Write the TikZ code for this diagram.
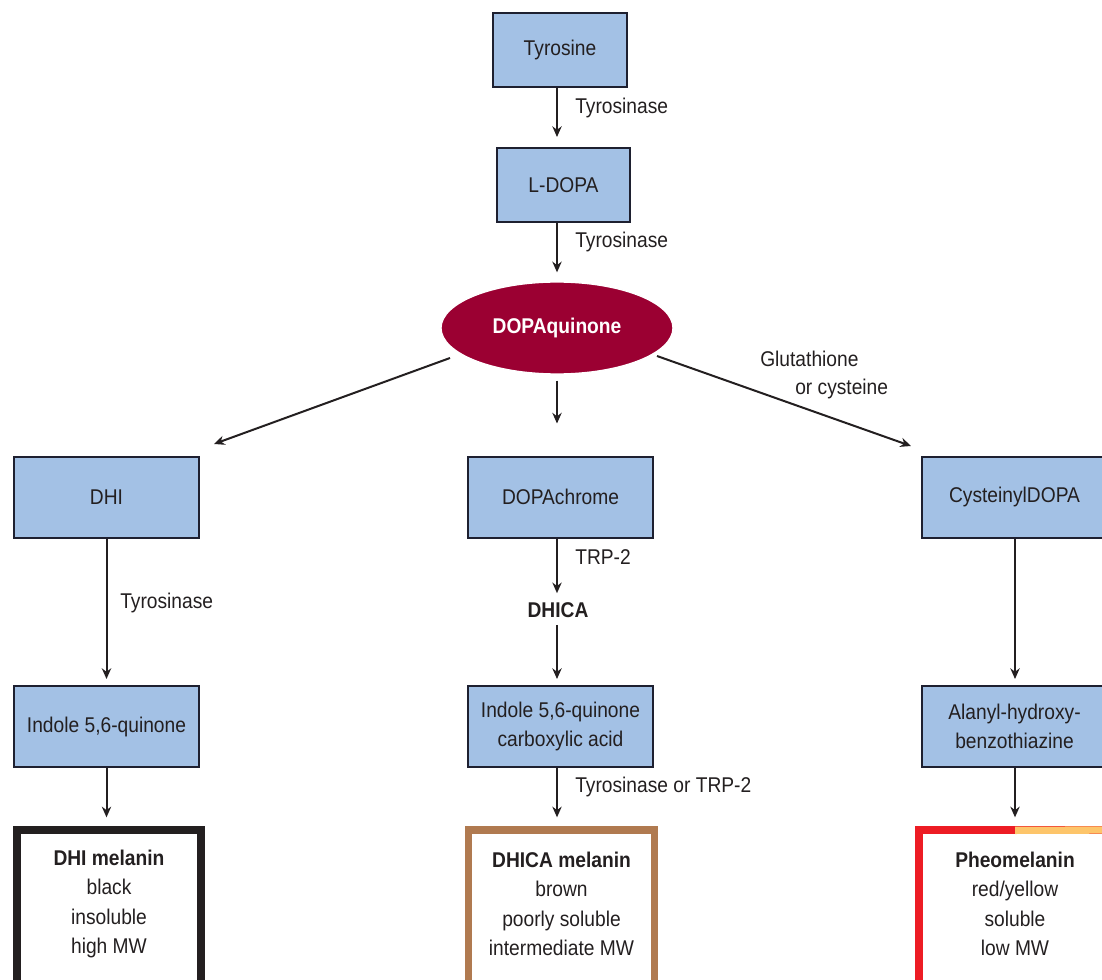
\documentclass[tikz,border=0pt]{standalone}
\usepackage{fontspec}
\setmainfont{Liberation Sans}[FakeStretch=0.9]
\usetikzlibrary{arrows.meta,shapes.geometric,calc}
\definecolor{boxblue}{RGB}{163,193,229}
\definecolor{boxedge}{RGB}{30,32,48}
\definecolor{dqred}{RGB}{155,0,50}
\definecolor{ink}{RGB}{35,31,32}
\definecolor{dhicabrown}{RGB}{176,122,80}
\definecolor{pheored}{RGB}{237,28,36}
\definecolor{pheoyellow}{RGB}{253,197,106}
\begin{document}
\begin{tikzpicture}[x=0.75pt,y=-0.75pt,
  every node/.style={font=\fontsize{16}{19}\selectfont, text=ink},
  bluebox/.style={draw=boxedge, line width=1.5pt, fill=boxblue,
    minimum width=138.75pt, minimum height=60.75pt, inner sep=0pt, align=center,
    font=\fontsize{16}{22}\selectfont},
  smallbox/.style={bluebox, minimum width=100.5pt, minimum height=55.5pt},
  melbox/.style={line width=5.5pt, minimum width=138pt, minimum height=123pt, inner sep=0pt},
  meltext/.style={align=center, inner sep=0pt, font=\fontsize{16}{22}\selectfont},
  arr/.style={draw=ink, line width=1.5pt, -{Stealth[length=8pt,width=7pt]}},
  lbl/.style={anchor=west, inner sep=0pt}]
\path[use as bounding box] (0,0) rectangle (1102,980);
\clip (0,0) rectangle (1102,980);

% top chain
\node[smallbox] (tyr) at (560,50) {Tyrosine};
\node[smallbox, minimum width=99.75pt] (ldopa) at (563.5,185) {L-DOPA};
\node[ellipse, fill=dqred, draw=white, line width=1pt, minimum width=174pt,
  minimum height=69pt, inner sep=0pt, text=white, font=\bfseries\fontsize{16}{19}\selectfont]
  (dq) at (557,328) {DOPAquinone};

% second row
\node[bluebox] (dhi) at (106.5,497) {DHI};
\node[bluebox] (dchr) at (560.5,497) {DOPAchrome};
\node[bluebox] (cys) at (1014.5,497) {CysteinylDOPA};

% middle label
\node[inner sep=0pt, font=\bfseries\fontsize{16}{19}\selectfont] (dhica) at (558,610) {DHICA};

% third row
\node[bluebox] (ind1) at (106.5,726.5) {Indole 5,6-quinone};
\node[bluebox] (ind2) at (560.5,726.5) {Indole 5,6-quinone\\carboxylic acid};
\node[bluebox] (ala) at (1014.5,726.5) {Alanyl-hydroxy-\\benzothiazine};

% melanin boxes
\node[melbox, draw=ink] (m1) at (109,912) {};
\node[meltext] at ([yshift=6pt]m1.center) {\textbf{DHI melanin}\\black\\insoluble\\high MW};
\node[melbox, draw=dhicabrown, minimum width=139.5pt] (m2) at (561.5,912) {};
\node[meltext] at ([yshift=6pt]m2.center) {\textbf{DHICA melanin}\\brown\\poorly soluble\\intermediate MW};
\node[melbox, draw=pheored, minimum width=144pt] (m3) at (1015,912) {};
\draw[pheoyellow, line width=5.5pt] (m3.north) ++(0,4) -- ([xshift=-2.75pt,yshift=-2.75pt]m3.north east)
  -- ([xshift=-2.75pt,yshift=2.75pt]m3.south east) -- ++(-200,0);
\node[meltext] at ([yshift=6pt]m3.center) {\textbf{Pheomelanin}\\red/yellow\\soluble\\low MW};

% arrows
\draw[arr, shorten >=7.5pt] (tyr.south -| dq.center) -- (ldopa.north -| dq.center);
\draw[arr, shorten >=6.75pt] (ldopa.south -| dq.center) -- (dq.north);
\draw[arr, shorten <=4.5pt, shorten >=24pt] (dq.south) -- (dchr.north -| dq.center);
\coordinate (dqL) at (450,358);
\coordinate (dhiIn) at (214,444);
\draw[arr] (dqL) -- (dhiIn);
\coordinate (dqR) at (657,356);
\coordinate (cysIn) at (911,446);
\draw[arr] (dqR) -- (cysIn);

\draw[arr, shorten >=4.5pt] (dhi.south) -- (ind1.north);
\draw[arr, shorten >=6.75pt] (dchr.south -| dq.center) -- (dhica.north -| dq.center);
\draw[arr, shorten <=5.25pt, shorten >=4.5pt] (dhica.south -| dq.center) -- (ind2.north -| dq.center);
\draw[arr, shorten >=4.5pt] (cys.south -| 1015,0) -- (ala.north -| 1015,0);

\draw[arr, shorten >=6.75pt] (ind1.south) -- (m1.north -| ind1.south);
\draw[arr, shorten >=6.75pt] (ind2.south -| dq.center) -- (m2.north -| dq.center);
\draw[arr, shorten >=6.75pt] (ala.south -| 1015,0) -- (m3.north -| 1015,0);

% labels
\node[lbl] (l1) at (575,108) {Tyrosinase};
\node[lbl] (l2) at (575,242) {Tyrosinase};
\node[lbl] (l3) at (760,359) {Glutathione};
\node[lbl] (l4) at (795,389) {or cysteine};
\node[lbl] (l5) at (120,603) {Tyrosinase};
\node[lbl] (l6) at (575,557) {TRP-2};
\node[lbl] (l7) at (575,787) {Tyrosinase or TRP-2};
\end{tikzpicture}
\end{document}
